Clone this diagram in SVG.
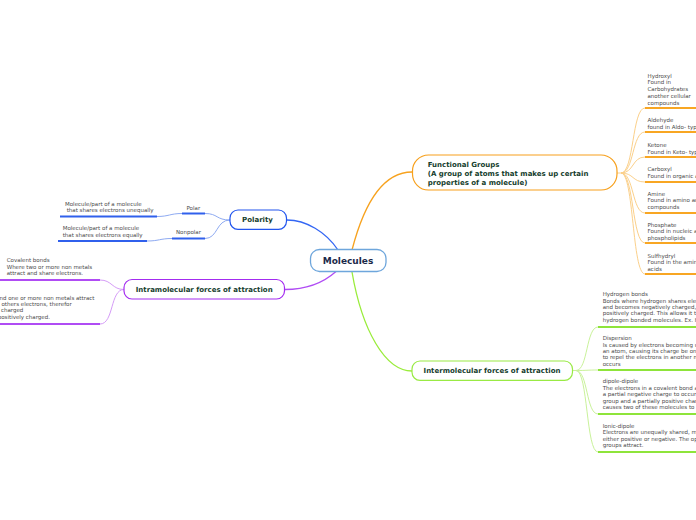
<svg xmlns="http://www.w3.org/2000/svg" width="696" height="520" viewBox="0 0 696 520">
<style>
  .t{font-family:"DejaVu Sans","Liberation Sans",sans-serif;font-size:5.5px;fill:#4a4a4a}
  .h{font-family:"DejaVu Sans","Liberation Sans",sans-serif;font-weight:bold;font-size:7px;fill:#153d2d}
  .c{fill:none}
  .ub{stroke:#3060ec;stroke-width:2}
  .cb{stroke:#8eaaf2;stroke-width:1}
  .uo{stroke:#f8a623;stroke-width:2}
  .co{stroke:#fbd08a;stroke-width:1}
  .ug{stroke:#8ee43a;stroke-width:2}
  .cg{stroke:#c9f29a;stroke-width:1}
  .up{stroke:#b04cf4;stroke-width:2}
  .cp{stroke:#d59cf7;stroke-width:1}
</style>
<rect width="696" height="520" fill="#ffffff"/>
<g id="connectors" class="c">
  <path d="M338,250 C 326,232 306,220 287,220" stroke="#3366f4" stroke-width="1.3"/>
  <path d="M352,250 C 365,200 385,172 412,172" stroke="#f7a21e" stroke-width="1.3"/>
  <path d="M352,272 C 362,330 385,371 412,371" stroke="#99ec3a" stroke-width="1.3"/>
  <path d="M285,289.5 C 305,289.5 322,284 336,271.5" stroke="#b04cf4" stroke-width="1.3"/>
  <!-- polarity children -->
  <path class="cb" d="M230,220 C 216,220 218,213.5 205,213.5"/>
  <path class="cb" d="M230,220 C 216,220 218,238.5 205,238.5"/>
  <line class="ub" x1="182" y1="213.5" x2="205" y2="213.5"/>
  <line class="ub" x1="172" y1="238.5" x2="205" y2="238.5"/>
  <path class="cb" d="M182,213.5 C 170,213.5 169,216.5 157,216.5"/>
  <path class="cb" d="M172,238.5 C 160,238.5 159,241 147,241"/>
  <line class="ub" x1="60" y1="216.5" x2="157" y2="216.5"/>
  <line class="ub" x1="58" y1="241" x2="147" y2="241"/>
  <!-- intramolecular children -->
  <path class="cp" d="M124,289.5 C 112,289.5 112,280 100,280"/>
  <path class="cp" d="M124,289.5 C 110,289.5 114,324 100,324"/>
  <line class="up" x1="0" y1="280" x2="100" y2="280"/>
  <line class="up" x1="0" y1="324" x2="100" y2="324"/>
  <!-- functional groups children -->
  <line class="co" x1="617" y1="173" x2="621" y2="173" stroke-width="1.5"/>
  <path class="co" d="M621,173 C 634,173 632,108 645,108"/>
  <path class="co" d="M621,173 C 634,173 632,132 645,132"/>
  <path class="co" d="M621,173 C 634,173 632,157 645,157"/>
  <path class="co" d="M621,173 C 634,173 632,182 645,182"/>
  <path class="co" d="M621,173 C 634,173 632,213 645,213"/>
  <path class="co" d="M621,173 C 634,173 632,243 645,243"/>
  <path class="co" d="M621,173 C 634,173 632,274 645,274"/>
  <line class="uo" x1="645" y1="108" x2="696" y2="108"/>
  <line class="uo" x1="645" y1="132" x2="696" y2="132"/>
  <line class="uo" x1="645" y1="157" x2="696" y2="157"/>
  <line class="uo" x1="645" y1="182" x2="696" y2="182"/>
  <line class="uo" x1="645" y1="213" x2="696" y2="213"/>
  <line class="uo" x1="645" y1="243" x2="696" y2="243"/>
  <line class="uo" x1="645" y1="274" x2="696" y2="274"/>
  <!-- intermolecular children -->
  <line class="cg" x1="572" y1="370.5" x2="576" y2="370.5" stroke-width="1.5"/>
  <path class="cg" d="M576,370.5 C 588,370.5 586,327 598,327"/>
  <path class="cg" d="M576,370.5 C 588,370.5 586,370 598,370"/>
  <path class="cg" d="M576,370.5 C 588,370.5 586,414 598,414"/>
  <path class="cg" d="M576,370.5 C 588,370.5 586,452 598,452"/>
  <line class="ug" x1="598" y1="327" x2="696" y2="327"/>
  <line class="ug" x1="598" y1="370" x2="696" y2="370"/>
  <line class="ug" x1="598" y1="414" x2="696" y2="414"/>
  <line class="ug" x1="598" y1="452" x2="696" y2="452"/>
</g>
<g id="molecules">
  <rect x="310.5" y="249.5" width="75.5" height="22" rx="9" fill="#fff" stroke="#6ea6dc" stroke-width="1.3"/>
  <text x="348" y="264" text-anchor="middle" font-family="DejaVu Sans, sans-serif" font-weight="bold" font-size="9" fill="#1c2a4a">Molecules</text>
</g>
<g id="polarity">
  <rect x="230" y="210" width="56.5" height="19.3" rx="8" fill="#fff" stroke="#2255ee" stroke-width="1.2"/>
  <text class="h" x="257.5" y="221.8" text-anchor="middle">Polarity</text>
</g>
<g id="polar">
  <text class="t" x="186.5" y="209.7">Polar</text>
  <text class="t" x="65" y="206">Molecule/part of a molecule</text>
  <text class="t" x="66.7" y="212.3">that shares electrons unequally</text>
</g>
<g id="nonpolar">
  <text class="t" x="176" y="234.3">Nonpolar</text>
  <text class="t" x="62.7" y="230.3">Molecule/part of a molecule</text>
  <text class="t" x="62.7" y="237">that shares electrons equally</text>
</g>
<g id="intramolecular">
  <rect x="124" y="279.5" width="160.5" height="19.5" rx="8" fill="#fff" stroke="#a32cf0" stroke-width="1.2"/>
  <text class="h" x="204.2" y="292" text-anchor="middle">Intramolecular forces of attraction</text>
</g>
<g id="covalent">
  <text class="t" x="6.7" y="262">Covalent bonds</text>
  <text class="t" x="6.7" y="268.5">Where two or more non metals</text>
  <text class="t" x="6.7" y="275">attract and share electrons.</text>
</g>
<g id="ionic">
  <text class="t" x="94.5" y="299.7" text-anchor="end">Where a metal and one or more non metals attract</text>
  <text class="t" x="71.7" y="306" text-anchor="end">each others electrons, therefor</text>
  <text class="t" x="23.3" y="312.4" text-anchor="end">becoming charged</text>
  <text class="t" x="50" y="318.7" text-anchor="end">negatively or positively charged.</text>
</g>
<g id="functional-groups">
  <rect x="412.5" y="155" width="204.5" height="35" rx="16" fill="#fff" stroke="#f7a01c" stroke-width="1.2"/>
  <text class="h" x="427.7" y="167.3" font-size="6.6">Functional Groups</text>
  <text class="h" x="427.7" y="176" font-size="6.6">(A group of atoms that makes up certain</text>
  <text class="h" x="427.7" y="184.6" font-size="6.6">properties of a molecule)</text>
</g>
<g id="hydroxyl">
  <text class="t" x="647.5" y="77.7">Hydroxyl</text>
  <text class="t" x="647.5" y="84.4">Found in</text>
  <text class="t" x="647.5" y="91.1">Carbohydrates</text>
  <text class="t" x="647.5" y="97.8">another cellular</text>
  <text class="t" x="647.5" y="104.5">compounds</text>
</g>
<g id="aldehyde">
  <text class="t" x="647.5" y="122">Aldehyde</text>
  <text class="t" x="647.5" y="128.7">found in Aldo- type sugars</text>
</g>
<g id="ketone">
  <text class="t" x="647.5" y="147">Ketone</text>
  <text class="t" x="647.5" y="153.5">Found in Keto- type sugars</text>
</g>
<g id="carboxyl">
  <text class="t" x="647.5" y="171.3">Carboxyl</text>
  <text class="t" x="647.5" y="178">Found in organic acids</text>
</g>
<g id="amine">
  <text class="t" x="647.5" y="195.7">Amine</text>
  <text class="t" x="647.5" y="202.3">Found in amino acids and other</text>
  <text class="t" x="647.5" y="208.8">compounds</text>
</g>
<g id="phosphate">
  <text class="t" x="647.5" y="226.7">Phosphate</text>
  <text class="t" x="647.5" y="233.3">Found in nucleic acids and</text>
  <text class="t" x="647.5" y="240">phospholipids</text>
</g>
<g id="sulfhydryl">
  <text class="t" x="647.5" y="257.7">Sulfhydryl</text>
  <text class="t" x="647.5" y="264.3">Found in the amino</text>
  <text class="t" x="647.5" y="271">acids</text>
</g>
<g id="intermolecular">
  <rect x="412" y="361" width="160.5" height="19.3" rx="8" fill="#fff" stroke="#99ea44" stroke-width="1.2"/>
  <text class="h" x="492" y="372.8" text-anchor="middle">Intermolecular forces of attraction</text>
</g>
<g id="hydrogen-bonds">
  <text class="t" x="602.7" y="296.3">Hydrogen bonds</text>
  <text class="t" x="602.7" y="302.6">Bonds where hydrogen shares electrons</text>
  <text class="t" x="602.7" y="308.9">and becomes negatively charged, making</text>
  <text class="t" x="602.7" y="315.2">positively charged. This allows it to</text>
  <text class="t" x="602.7" y="321.5">hydrogen bonded molecules. Ex. H2O</text>
</g>
<g id="dispersion">
  <text class="t" x="602.7" y="340.3">Dispersion</text>
  <text class="t" x="602.7" y="346.6">Is caused by electrons becoming unevenly</text>
  <text class="t" x="602.7" y="352.9">an atom, causing its charge be one-sided</text>
  <text class="t" x="602.7" y="359.2">to repel the electrons in another molecule</text>
  <text class="t" x="602.7" y="365.5">occurs</text>
</g>
<g id="dipole-dipole">
  <text class="t" x="602.7" y="383">dipole-dipole</text>
  <text class="t" x="602.7" y="389.5">The electrons in a covalent bond are</text>
  <text class="t" x="602.7" y="396">a partial negative charge to occur</text>
  <text class="t" x="602.7" y="402.5">group and a partially positive charge</text>
  <text class="t" x="602.7" y="409">causes two of these molecules to attract</text>
</g>
<g id="ionic-dipole">
  <text class="t" x="602.7" y="427.7">Ionic-dipole</text>
  <text class="t" x="602.7" y="434.2">Electrons are unequally shared, making</text>
  <text class="t" x="602.7" y="440.6">either positive or negative. The opposite</text>
  <text class="t" x="602.7" y="446.9">groups attract.</text>
</g>
</svg>
